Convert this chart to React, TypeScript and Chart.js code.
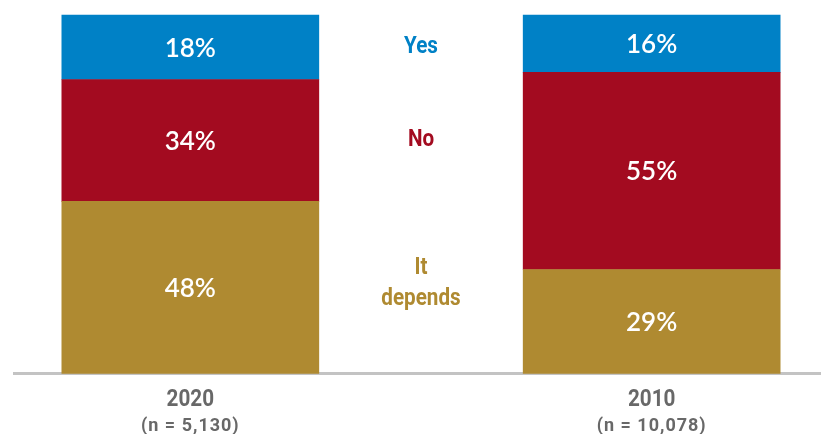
import React, { useEffect, useRef } from "react";
import { Chart, registerables } from "chart.js";

Chart.register(...registerables);

const categories = ["2020", "", "2010"];
const sampleSizes = ["(n = 5,130)", "", "(n = 10,078)"];
const itDepends = [48, null, 29];
const no = [34, null, 55];
const yes = [18, null, 16];
const seriesNames = ["It depends", "No", "Yes"];

const BLUE = "#0081C6";
const RED = "#A30B20";
const GOLD = "#AF8A31";

function narrowText(ctx: any, text: string, x: number, y: number, sx: number) {
  ctx.save();
  ctx.translate(x, y);
  ctx.scale(sx, 1);
  ctx.fillText(text, 0, 0);
  ctx.restore();
}

const labelsPlugin = {
  id: "customLabels",
  beforeDatasetsDraw(chart: any) {
    const { ctx, chartArea } = chart;
    ctx.save();
    ctx.strokeStyle = "#C3C3C3";
    ctx.lineWidth = 3;
    ctx.beginPath();
    ctx.moveTo(13, chartArea.bottom);
    ctx.lineTo(chart.width, chartArea.bottom);
    ctx.stroke();
    ctx.restore();
  },
  afterDatasetsDraw(chart: any) {
    const { ctx, chartArea } = chart;
    const xScale = chart.scales.x;
    ctx.save();
    // values inside bars
    ctx.textAlign = "center";
    ctx.textBaseline = "middle";
    ctx.fillStyle = "#FFFFFF";
    ctx.font = "600 26px Lato, 'Open Sans', sans-serif";
    chart.data.datasets.forEach((ds: any, di: number) => {
      const meta = chart.getDatasetMeta(di);
      meta.data.forEach((bar: any, i: number) => {
        const v = ds.data[i];
        if (v == null) return;
        const { x, y, base } = bar.getProps(["x", "y", "base"], true);
        ctx.fillText(v + "%", x, (y + base) / 2 + 1);
      });
    });
    // series names in middle column, aligned with the first bar's segments
    const midX = xScale.getPixelForValue(1);
    ctx.font = "bold 24px Roboto, sans-serif";
    chart.data.datasets.forEach((ds: any, di: number) => {
      const bar = chart.getDatasetMeta(di).data[0];
      const { y, base } = bar.getProps(["y", "base"], true);
      const cy = (y + base) / 2;
      ctx.fillStyle = ds.backgroundColor;
      const words = ds.label === "It depends" ? ["It", "depends"] : [ds.label];
      const lh = 31;
      const start = cy - ((words.length - 1) * lh) / 2 - (words.length > 1 ? 4 : 0);
      words.forEach((w: string, k: number) => narrowText(ctx, w, midX, start + k * lh, 0.86));
    });
    // category labels
    ctx.fillStyle = "#686868";
    ctx.textBaseline = "alphabetic";
    categories.forEach((c, i) => {
      if (!c) return;
      const x = xScale.getPixelForValue(i);
      ctx.font = "bold 23px Roboto, sans-serif";
      narrowText(ctx, c, x, chartArea.bottom + 32.5, 0.9);
      ctx.font = "bold 18px Roboto, sans-serif";
      ctx.letterSpacing = "1px";
      ctx.fillText(sampleSizes[i], x, chartArea.bottom + 57.5);
      ctx.letterSpacing = "0px";
    });
    ctx.restore();
  },
};

export default function App() {
  const ref = useRef<HTMLCanvasElement | null>(null);
  useEffect(() => {
    if (!ref.current) return;
    const chart = new Chart(ref.current, {
      type: "bar",
      data: {
        labels: categories,
        datasets: [
          { label: seriesNames[0], data: itDepends, backgroundColor: GOLD, barThickness: 257, clip: false },
          { label: seriesNames[1], data: no, backgroundColor: RED, barThickness: 257, clip: false },
          { label: seriesNames[2], data: yes, backgroundColor: BLUE, barThickness: 257, clip: false },
        ],
      },
      options: {
        animation: false,
        responsive: true,
        maintainAspectRatio: false,
        layout: { padding: { left: 75, right: 54, top: 15, bottom: 60.5 } },
        plugins: { legend: { display: false }, tooltip: { enabled: false } },
        scales: {
          x: { stacked: true, display: false },
          y: { stacked: true, display: false, min: 0, max: 100 },
        },
      },
      plugins: [labelsPlugin],
    });
    return () => chart.destroy();
  }, []);
  return (
    <div style={{ position: "fixed", left: 0, top: 0, width: 821, height: 434, background: "#fff" }}>
      <canvas ref={ref} />
    </div>
  );
}
